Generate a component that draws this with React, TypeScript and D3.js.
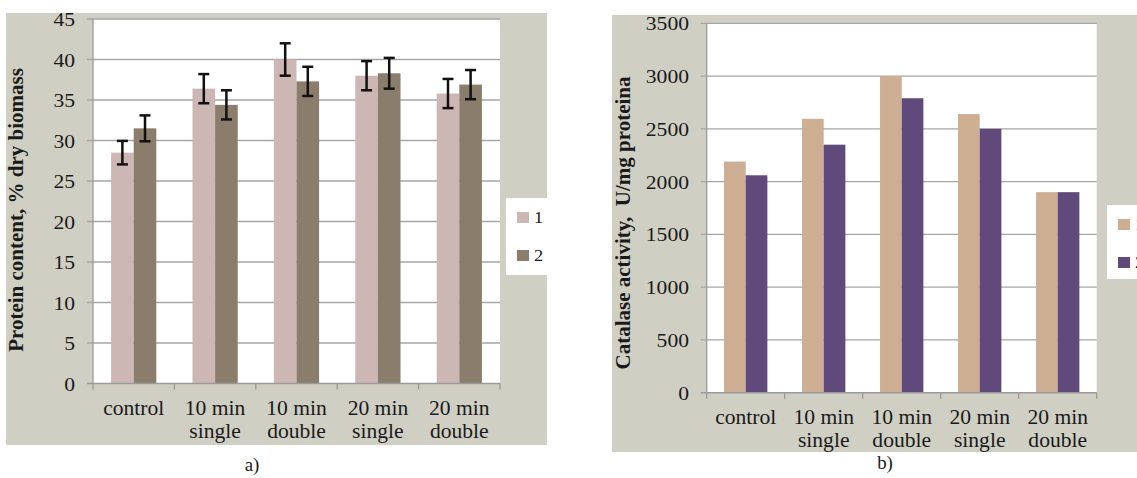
import React, { useEffect, useRef } from "react";
import * as d3 from "d3";

// category tick labels, one entry per line
const categories = [
  ["control"],
  ["10 min", "single"],
  ["10 min", "double"],
  ["20 min", "single"],
  ["20 min", "double"],
];
const seriesNames = ["1", "2"];

// a) protein content, % dry biomass
const proteinTicks = [0, 5, 10, 15, 20, 25, 30, 35, 40, 45];
const protein1 = [28.5, 36.4, 40.0, 38.0, 35.8];
const protein2 = [31.5, 34.4, 37.3, 38.3, 36.9];
const proteinErr1 = [1.45, 1.8, 2.0, 1.8, 1.8];
const proteinErr2 = [1.6, 1.8, 1.8, 1.9, 1.8];

// b) catalase activity, U/mg proteina
const catalaseTicks = [0, 500, 1000, 1500, 2000, 2500, 3000, 3500];
const catalase1 = [2190, 2595, 3000, 2640, 1900];
const catalase2 = [2060, 2350, 2790, 2500, 1900];

const FONT = "'Liberation Serif', 'Times New Roman', serif";
const PANEL = "#cfcfc4";
const GRID = "#a6a6a6";

function stretchedText(g, x, y, str, size, sx, anchor) {
  return g.append("text")
    .attr("transform", `translate(${x},${y}) scale(${sx},1)`)
    .attr("text-anchor", anchor)
    .attr("font-family", FONT)
    .attr("font-size", size)
    .attr("fill", "#1a1a1a")
    .text(str);
}

function drawPanel(svg, o) {
  const g = svg.append("g");

  g.append("rect")
    .attr("x", o.panel[0]).attr("y", o.panel[1])
    .attr("width", o.panel[2]).attr("height", o.panel[3])
    .attr("fill", PANEL);

  const x0 = d3.scaleBand().domain(d3.range(categories.length)).range([o.left, o.right]);
  const x1 = d3.scaleBand().domain(seriesNames).range([0, x0.bandwidth()]).paddingOuter(0.8);
  const yMax = d3.max(o.ticks);
  const y = d3.scaleLinear().domain([0, yMax]).range([o.bottom, o.top]);

  g.append("rect")
    .attr("x", o.left).attr("y", y(yMax))
    .attr("width", o.right - o.left).attr("height", o.bottom - y(yMax))
    .attr("fill", "#fff");

  g.selectAll(".grid")
    .data(o.ticks.filter(t => t > 0))
    .join("line")
    .attr("x1", o.left - 6).attr("x2", o.right)
    .attr("y1", d => y(d)).attr("y2", d => y(d))
    .attr("stroke", GRID).attr("stroke-width", 1.3);

  // bars
  const series = [o.s1, o.s2];
  series.forEach((vals, si) => {
    g.selectAll(".bar" + si)
      .data(vals)
      .join("rect")
      .attr("x", (d, i) => x0(i) + x1(seriesNames[si]))
      .attr("width", x1.bandwidth())
      .attr("y", d => y(d))
      .attr("height", d => o.bottom - y(d))
      .attr("fill", o.colors[si]);
  });

  // error bars
  if (o.errs) {
    series.forEach((vals, si) => {
      vals.forEach((v, i) => {
        const cx = x0(i) + x1(seriesNames[si]) + x1.bandwidth() / 2;
        const e = o.errs[si][i];
        const eg = g.append("g").attr("stroke", "#111").attr("stroke-width", 2.5);
        eg.append("line").attr("x1", cx).attr("x2", cx).attr("y1", y(v - e)).attr("y2", y(v + e));
        eg.append("line").attr("x1", cx - 5.5).attr("x2", cx + 5.5).attr("y1", y(v - e)).attr("y2", y(v - e));
        eg.append("line").attr("x1", cx - 5.5).attr("x2", cx + 5.5).attr("y1", y(v + e)).attr("y2", y(v + e));
      });
    });
  }

  // axes
  g.append("line")
    .attr("x1", o.left).attr("x2", o.left)
    .attr("y1", y(yMax)).attr("y2", o.bottom)
    .attr("stroke", "#9a9a9a").attr("stroke-width", 1.3);
  g.append("line")
    .attr("x1", o.left - 6).attr("x2", o.right)
    .attr("y1", o.bottom).attr("y2", o.bottom)
    .attr("stroke", "#9a9a9a").attr("stroke-width", 1.6);
  const xTicks = d3.range(categories.length).map(i => x0(i)).concat([o.right]);
  g.selectAll(".xtick")
    .data(xTicks)
    .join("line")
    .attr("x1", d => d).attr("x2", d => d)
    .attr("y1", o.bottom).attr("y2", o.bottom + 6)
    .attr("stroke", "#9a9a9a").attr("stroke-width", 1.3);

  // tick labels
  o.ticks.forEach(t => stretchedText(g, o.tickX, y(t) + 7, String(t), 18, 1.2, "end"));
  categories.forEach((lines, i) => {
    const cx = x0(i) + x0.bandwidth() / 2;
    lines.forEach((ln, j) => stretchedText(g, cx, o.bottom + 31 + j * 23.5, ln, 20, 1.08, "middle"));
  });

  // y axis title
  g.append("text")
    .attr("transform", `translate(${o.yLabelX},${o.yLabelY}) rotate(-90)`)
    .attr("text-anchor", "middle")
    .attr("font-family", FONT)
    .attr("font-size", 21)
    .attr("font-weight", "bold")
    .attr("fill", "#1a1a1a")
    .style("white-space", "pre")
    .text(o.yLabel);

  // legend
  g.append("rect")
    .attr("x", o.legend[0]).attr("y", o.legend[1])
    .attr("width", o.legend[2]).attr("height", o.legend[3])
    .attr("fill", "#fff");
  seriesNames.forEach((name, si) => {
    const ly = o.legend[1] + 14 + si * 38;
    g.append("rect")
      .attr("x", o.legend[0] + 11).attr("y", ly)
      .attr("width", 12).attr("height", 11)
      .attr("fill", o.colors[si]);
    stretchedText(g, o.legend[0] + 28, ly + 11, name, 16, 1.15, "start");
  });

  stretchedText(g, o.caption[0], o.caption[1], o.captionText, 18, 1.05, "middle");
}

export default function App() {
  const ref = useRef(null);

  useEffect(() => {
    const svg = d3.select(ref.current);
    svg.selectAll("*").remove();

    drawPanel(svg, {
      panel: [6, 13, 541, 432],
      left: 93, right: 500, top: 19, bottom: 383.5,
      ticks: proteinTicks,
      s1: protein1, s2: protein2,
      errs: [proteinErr1, proteinErr2],
      colors: ["#cdb7b5", "#8b7d6b"],
      tickX: 75,
      yLabel: "Protein content, % dry biomass",
      yLabelX: 23, yLabelY: 210,
      legend: [506, 198, 41, 77],
      caption: [252, 471], captionText: "a)",
    });

    drawPanel(svg, {
      panel: [612, 15, 525, 437],
      left: 706.7, right: 1096.7, top: 23.3, bottom: 392.7,
      ticks: catalaseTicks,
      s1: catalase1, s2: catalase2,
      errs: null,
      colors: ["#ceae93", "#604a7b"],
      tickX: 689,
      yLabel: "Catalase activity,  U/mg proteina",
      yLabelX: 630, yLabelY: 223,
      legend: [1107, 205, 40, 74],
      caption: [885, 469], captionText: "b)",
    });
  }, []);

  return (
    <svg
      ref={ref}
      width={1137}
      height={478}
      style={{ position: "absolute", left: 0, top: 0, background: "#fff" }}
    />
  );
}
